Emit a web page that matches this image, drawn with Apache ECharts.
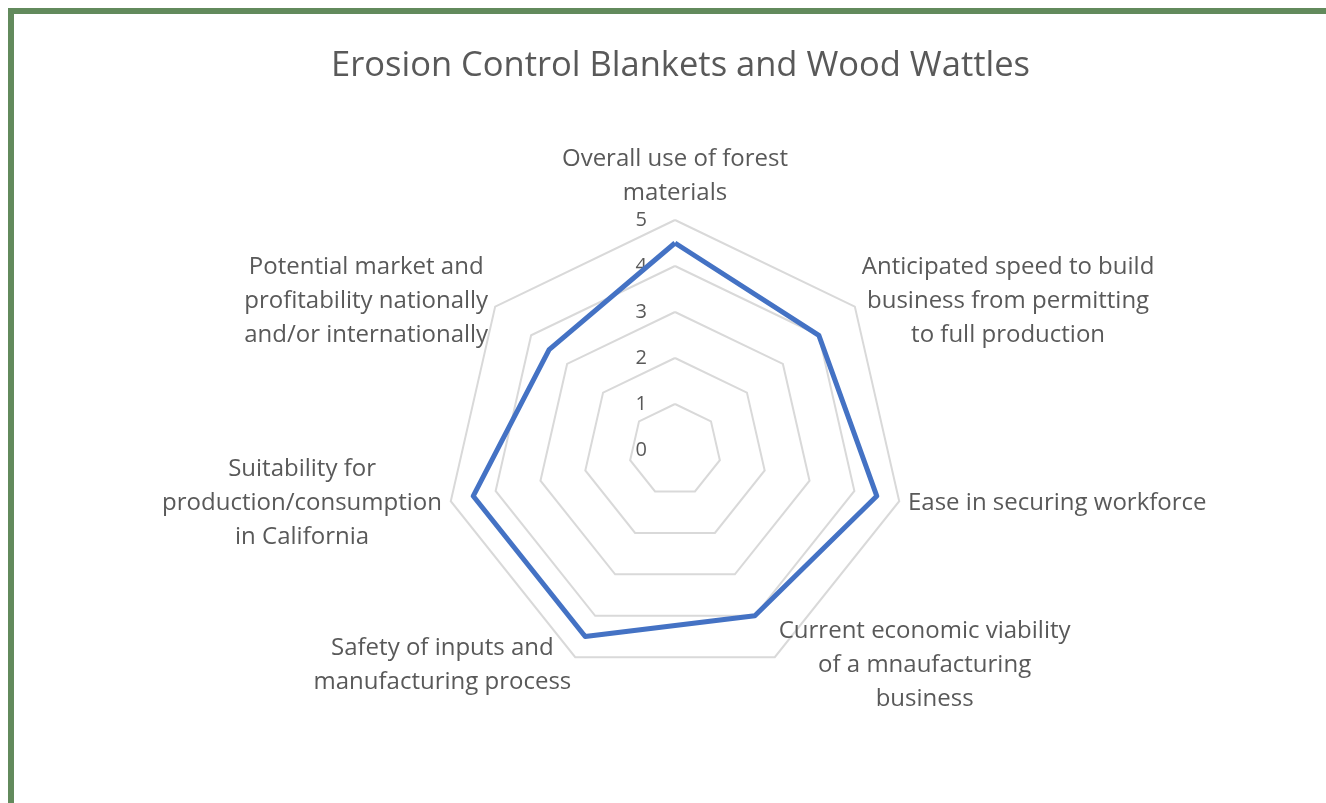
<!DOCTYPE html>
<html>
<head>
<meta charset="utf-8">
<script src="https://cdn.jsdelivr.net/npm/echarts@6/dist/echarts.min.js"></script>
<style>
  html, body { margin: 0; padding: 0; background: #fff; overflow: hidden; }
  #chart { position: absolute; left: 0; top: 0; width: 1326px; height: 803px; }
  #frame {
    position: absolute; left: 8px; top: 8px; width: 1400px; height: 900px;
    border-left: 6px solid #628a5c; border-top: 6px solid #628a5c;
    pointer-events: none;
  }
</style>
</head>
<body>
<div id="chart"></div>
<div id="frame"></div>
<script>
// chart data (clockwise from the top, as in the source)
var title = 'Erosion Control Blankets and Wood Wattles';
var categories = [
    'Overall use of forest\nmaterials',
    'Anticipated speed to build\nbusiness from permitting\nto full production',
    'Ease in securing workforce',
    'Current economic viability\nof a mnaufacturing\nbusiness',
    'Safety of inputs and\nmanufacturing process',
    'Suitability for\nproduction/consumption\nin California',
    'Potential market and\nprofitability nationally\nand/or internationally'
];
var scores = [4.5, 4, 4.5, 4, 4.5, 4.5, 3.5];
var axisMax = 5;

var textColor = '#595959';
var fontName = 'Open Sans';

// echarts radar runs counter-clockwise, so keep the first axis and reverse the rest
var order = [0];
for (var k = categories.length - 1; k > 0; k--) order.push(k);

// center each line of a multi-line name
function centered(name) {
    return name.split('\n').map(function (s) { return '{c|' + s + '}'; }).join('\n');
}

var indicators = order.map(function (i) {
    var ind = { name: categories[i], min: 0, max: axisMax };
    if (i === 0) {
        ind.axisLabel = {
            show: true,
            color: textColor,
            fontFamily: fontName,
            fontSize: 20,
            margin: 28,
            showMinLabel: true,
            showMaxLabel: true
        };
    }
    return ind;
});

var chart = echarts.init(document.getElementById('chart'));

chart.setOption({
    animation: false,
    backgroundColor: '#fff',
    title: {
        text: title,
        left: 326,
        top: 44,
        textStyle: {
            color: textColor,
            fontFamily: fontName,
            fontSize: 34.5,
            fontWeight: 'normal'
        }
    },
    radar: {
        center: [675, 450],
        radius: 230,
        startAngle: 90,
        splitNumber: 5,
        shape: 'polygon',
        indicator: indicators,
        nameGap: 9,
        axisName: {
            color: textColor,
            fontFamily: fontName,
            fontSize: 24,
            lineHeight: 34,
            formatter: function (name) { return centered(name); },
            rich: {
                c: {
                    align: 'center',
                    color: textColor,
                    fontFamily: fontName,
                    fontSize: 24,
                    lineHeight: 34
                }
            }
        },
        axisLine: { show: false },
        axisTick: { show: false },
        axisLabel: { show: false },
        splitArea: { show: false },
        splitLine: {
            lineStyle: { color: '#d9d9d9', width: 2 }
        }
    },
    series: [{
        type: 'radar',
        symbol: 'none',
        lineStyle: { color: '#4472c4', width: 5 },
        itemStyle: { color: '#4472c4' },
        data: [{ value: order.map(function (i) { return scores[i]; }), name: title }]
    }]
});
</script>
</body>
</html>
